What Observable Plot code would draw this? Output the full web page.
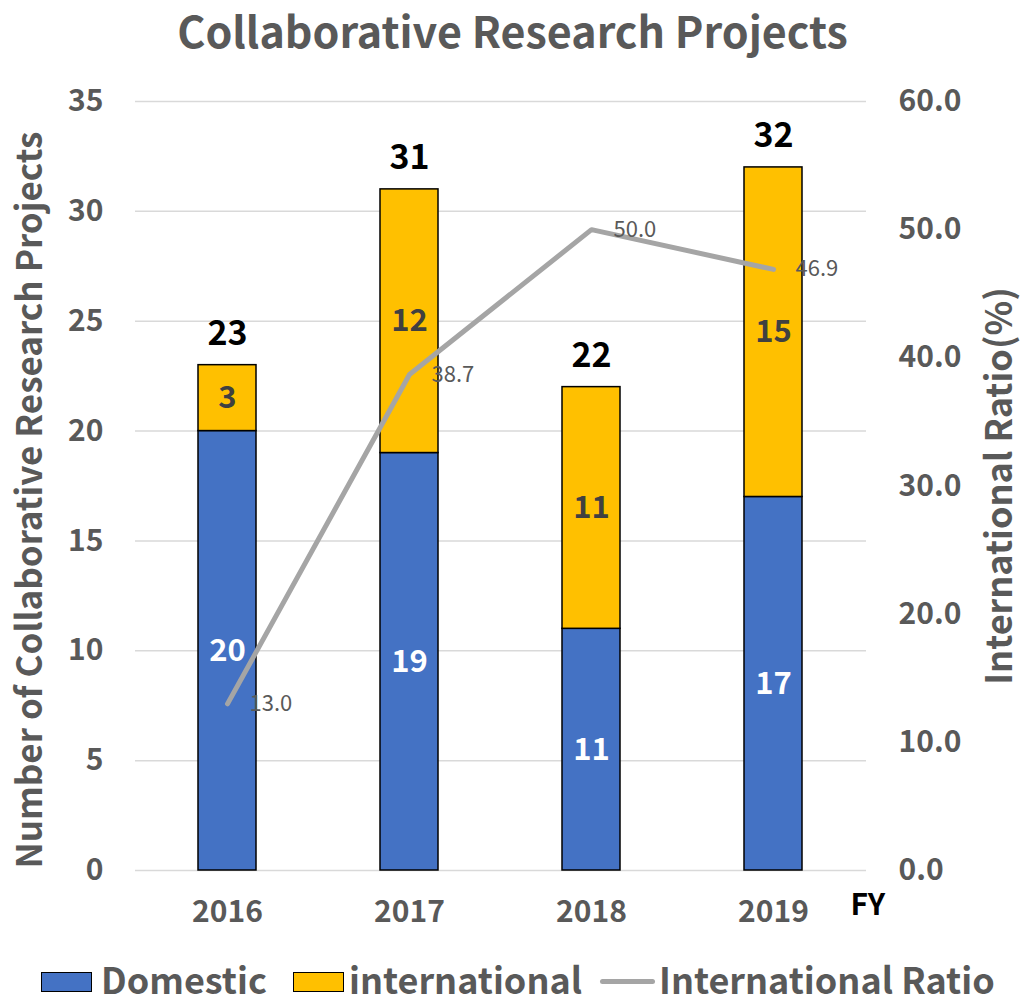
<!DOCTYPE html>
<html><head><meta charset="utf-8">
<script src="https://cdn.jsdelivr.net/npm/d3@7"></script>
<script src="https://cdn.jsdelivr.net/npm/@observablehq/plot@0.6"></script>
<style>
body{margin:0;background:#fff;font-family:"Noto Sans CJK JP","Noto Sans",sans-serif;}
#wrap{width:1025px;}
#title{height:58px;line-height:58px;text-align:center;font-size:43px;font-weight:bold;color:#595959;white-space:nowrap;}
#legend{height:64px;position:relative;font-size:36px;font-weight:bold;color:#595959;}
.sw{position:absolute;width:49px;height:18px;border:1.5px solid #000;}
.ln{position:absolute;width:55px;height:5px;border-radius:3px;background:#A5A5A5;}
.lt{position:absolute;white-space:nowrap;line-height:40px;}
</style></head>
<body><div id="wrap"><div id="title">Collaborative Research Projects</div><div id="chart"></div>
<div id="legend">
<div class="sw" style="left:41px;top:34px;background:#4472C4"></div><div class="lt" style="left:101px;top:20px">Domestic</div>
<div class="sw" style="left:293px;top:34px;background:#FFC000"></div><div class="lt" style="left:349px;top:20px">international</div>
<div class="ln" style="left:600px;top:41px"></div><div class="lt" style="left:659px;top:20px">International Ratio</div>
</div></div>
<script>
const years = ["2016", "2017", "2018", "2019"];
const domestic = [20, 19, 11, 17];
const international = [3, 12, 11, 15];
const ratio = [13.0, 38.7, 50.0, 46.9];
const leftTicks = [0, 5, 10, 15, 20, 25, 30, 35];
const rightTicks = [0, 10, 20, 30, 40, 50, 60];

const LEFT_MAX = 35, RIGHT_MAX = 60;
const k = LEFT_MAX / RIGHT_MAX;
const barColors = {Domestic: "#4472C4", international: "#FFC000"};
const labelColors = {Domestic: "#ffffff", international: "#404040"};

const rows = [];
years.forEach((y, i) => {
  rows.push({year: y, type: "Domestic", value: domestic[i]});
  rows.push({year: y, type: "international", value: international[i]});
});
const totals = years.map((y, i) => ({year: y, total: domestic[i] + international[i]}));
const ratioRows = years.map((y, i) => ({year: y, ratio: ratio[i], yv: ratio[i] * k}));

const chart = Plot.plot({
  width: 1025, height: 880,
  marginLeft: 135, marginRight: 159, marginTop: 43, marginBottom: 68,
  style: {fontFamily: '"Noto Sans CJK JP","Noto Sans",sans-serif', background: "#fff"},
  x: {domain: years, paddingInner: 0.68, paddingOuter: 0.34, axis: null},
  y: {domain: [0, LEFT_MAX], axis: null},
  color: {type: "identity"},
  marks: [
    Plot.ruleY(leftTicks, {stroke: "#d9d9d9", strokeWidth: 1.5}),
    Plot.axisY(leftTicks, {anchor: "left", tickSize: 0, tickPadding: 32, fontSize: 30, fontWeight: "bold", color: "#595959", label: null}),
    Plot.axisY(rightTicks.map(t => t * k), {anchor: "right", tickSize: 0, tickPadding: 32, fontSize: 30, fontWeight: "bold", color: "#595959", label: null, tickFormat: d => (d / k).toFixed(1)}),
    Plot.axisX(years, {anchor: "bottom", tickSize: 0, tickPadding: 30, fontSize: 30, fontWeight: "bold", color: "#595959", label: null}),
    Plot.barY(rows, {x: "year", y: "value", fill: d => barColors[d.type], stroke: "#000", strokeWidth: 1.5}),
    Plot.text(rows, Plot.stackY({x: "year", y: "value", text: d => String(d.value), fill: d => labelColors[d.type], fontSize: 31, fontWeight: "bold"})),
    Plot.text(totals, {x: "year", y: "total", text: d => String(d.total), dy: -31, fontSize: 34, fontWeight: "bold", fill: "#000"}),
    Plot.line(ratioRows, {x: "year", y: "yv", stroke: "#A5A5A5", strokeWidth: 5}),
    Plot.text(ratioRows, {x: "year", y: "yv", text: d => d.ratio.toFixed(1), textAnchor: "start", dx: 22, fontSize: 22, fill: "#595959"}),
    Plot.text(["FY"], {frameAnchor: "bottom-right", textAnchor: "start", dx: -16, dy: 44, fontSize: 30, fontWeight: "bold", fill: "#000"}),
    Plot.text(["Number of Collaborative Research Projects"], {frameAnchor: "left", textAnchor: "middle", rotate: -90, dx: -105, dy: 14, fontSize: 35, fontWeight: "bold", fill: "#595959"}),
    Plot.text(["International Ratio(%)"], {frameAnchor: "right", textAnchor: "middle", rotate: -90, dx: 134, dy: 0, fontSize: 36, fontWeight: "bold", fill: "#595959"})
  ]
});
document.getElementById("chart").appendChild(chart);
</script></body></html>
